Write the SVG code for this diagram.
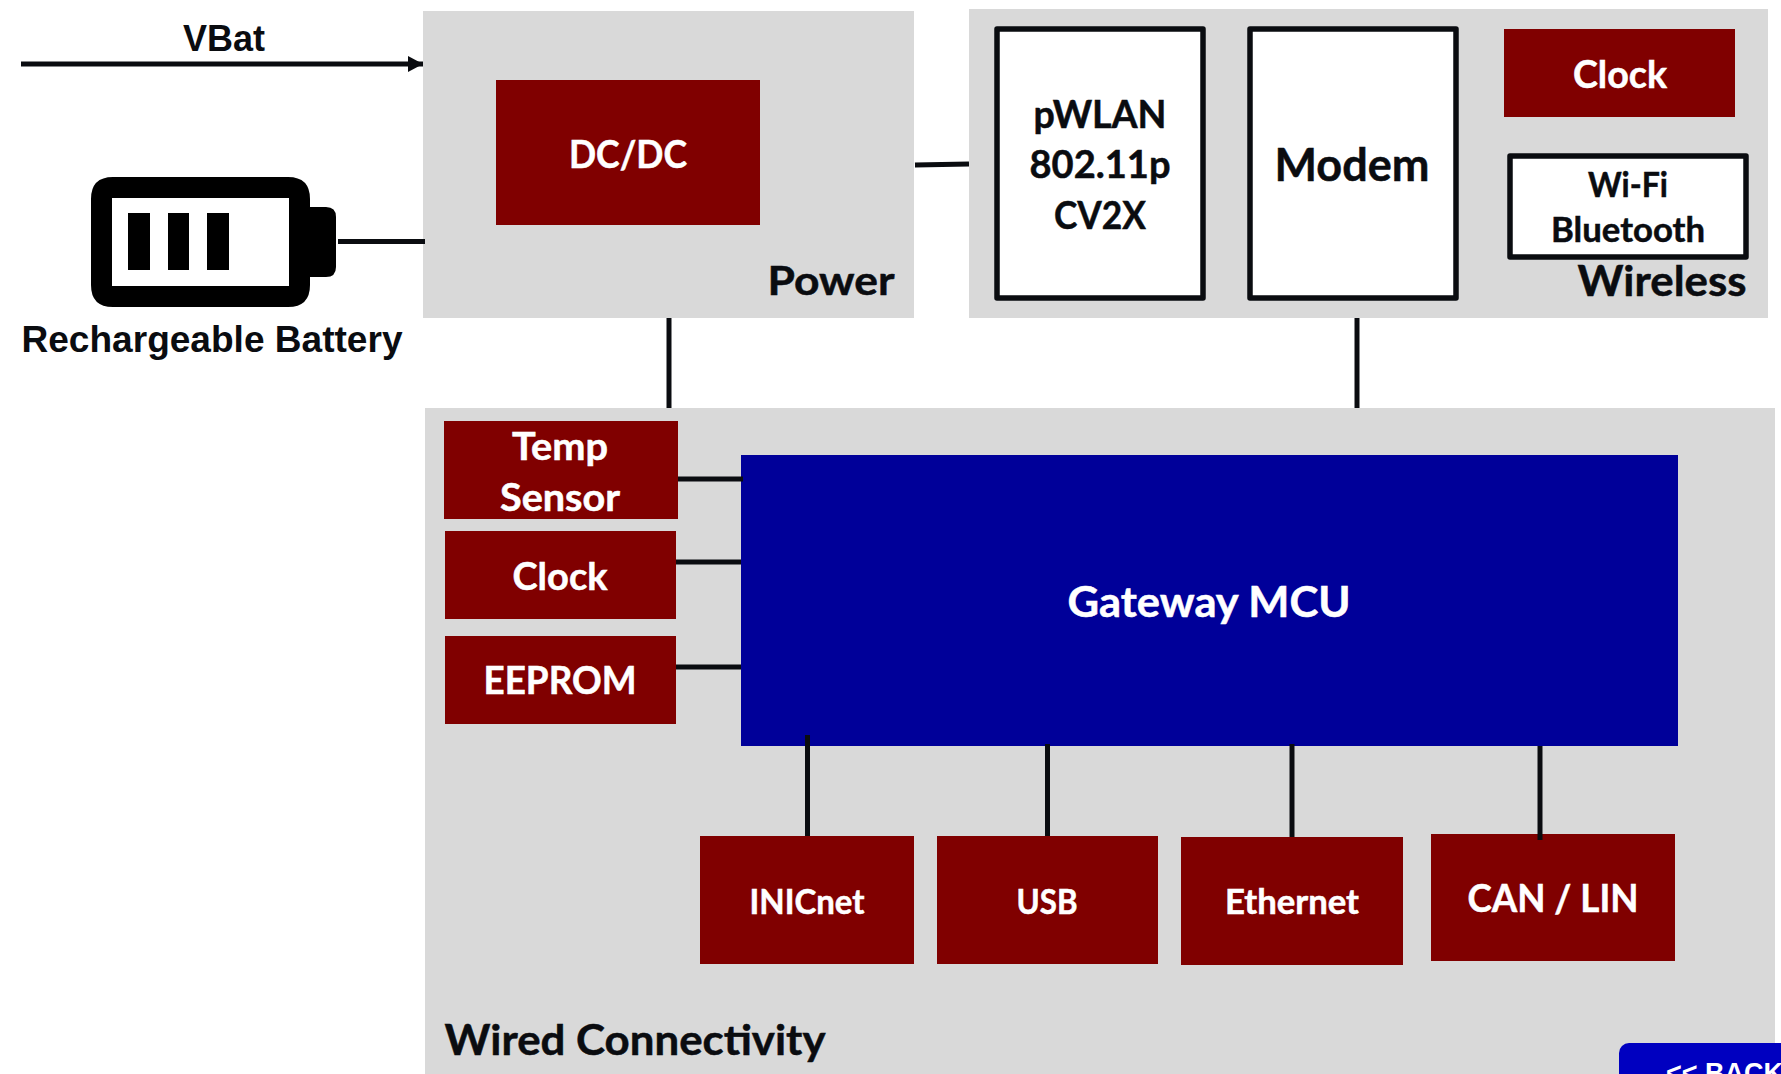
<svg xmlns="http://www.w3.org/2000/svg" width="1781" height="1074" viewBox="0 0 1781 1074">
<style>
.panel{fill:#d9d9d9}
.red{fill:#800000}
.white{fill:#fff;stroke:#0a0c10;stroke-width:5.5;stroke-linejoin:round}
.t{font-family:Lato,"Open Sans","Liberation Sans",sans-serif;font-weight:700;text-anchor:middle;stroke-width:.5}
.w{fill:#fff;stroke:#fff}
.k{fill:#0a0c10;stroke:#0a0c10}
.a{font-family:"Liberation Sans",Arial,sans-serif;font-weight:700;text-anchor:middle;fill:#0a0c10}
.c{stroke:#0a0c10;stroke-width:5;fill:none}
</style>
<defs>
<marker id="arrow" markerUnits="userSpaceOnUse" markerWidth="16" markerHeight="16" refX="15" refY="8" orient="auto"><path d="M0 0L15 8L0 16Z" fill="#0a0c10"/></marker>
</defs>
<rect width="1781" height="1074" fill="#fff"/>
<g id="power"><rect class="panel" x="423" y="11" width="491" height="307"/>
<text class="t k" x="831" y="295" font-size="41" textLength="127" lengthAdjust="spacingAndGlyphs">Power</text></g>
<g id="wireless"><rect class="panel" x="969" y="9" width="799" height="309"/>
<text class="t k" x="1662" y="296" font-size="42" textLength="169" lengthAdjust="spacingAndGlyphs">Wireless</text></g>
<g id="wired"><rect class="panel" x="425" y="408" width="1350" height="666"/>
<text class="t k" x="635" y="1055" font-size="42" textLength="381" lengthAdjust="spacingAndGlyphs">Wired Connectivity</text></g>
<g id="vbat"><text class="a" x="224" y="51" font-size="36">VBat</text></g>
<g id="battery">
<path fill-rule="evenodd" d="M113 177H288Q310 177 310 199V207H326Q336 207 336 217V267Q336 277 326 277H310V285Q310 307 288 307H113Q91 307 91 285V199Q91 177 113 177ZM112 198V286H289V198Z" fill="#000"/>
<rect x="128" y="213" width="22" height="57" fill="#000"/>
<rect x="168" y="213" width="21" height="57" fill="#000"/>
<rect x="207" y="213" width="22" height="57" fill="#000"/>
<text class="a" x="212" y="352" font-size="36" textLength="381" lengthAdjust="spacingAndGlyphs">Rechargeable Battery</text>
</g>
<g id="dcdc"><rect class="red" x="496" y="80" width="264" height="145"/>
<text class="t w" x="628" y="168" font-size="38" textLength="118" lengthAdjust="spacingAndGlyphs">DC/DC</text></g>
<g id="pwlan"><rect class="white" x="997" y="29" width="206" height="269"/>
<text class="t k" x="1100" y="128" font-size="38" textLength="133" lengthAdjust="spacingAndGlyphs">pWLAN</text>
<text class="t k" x="1100" y="178" font-size="38" textLength="141" lengthAdjust="spacingAndGlyphs">802.11p</text>
<text class="t k" x="1100" y="229" font-size="38" textLength="92" lengthAdjust="spacingAndGlyphs">CV2X</text></g>
<g id="modem"><rect class="white" x="1250" y="29" width="206" height="269"/>
<text class="t k" x="1352" y="181" font-size="46" textLength="155" lengthAdjust="spacingAndGlyphs">Modem</text></g>
<g id="wclock"><rect class="red" x="1504" y="29" width="231" height="88"/>
<text class="t w" x="1620" y="88" font-size="38" textLength="94" lengthAdjust="spacingAndGlyphs">Clock</text></g>
<g id="wifi"><rect class="white" x="1510" y="156" width="236" height="101"/>
<text class="t k" x="1628" y="197" font-size="34" textLength="80" lengthAdjust="spacingAndGlyphs">Wi-Fi</text>
<text class="t k" x="1628" y="242" font-size="34" textLength="154" lengthAdjust="spacingAndGlyphs">Bluetooth</text></g>
<g id="temp"><rect class="red" x="444" y="421" width="234" height="98"/>
<text class="t w" x="560" y="460" font-size="38" textLength="96" lengthAdjust="spacingAndGlyphs">Temp</text>
<text class="t w" x="560" y="511" font-size="38" textLength="120" lengthAdjust="spacingAndGlyphs">Sensor</text></g>
<g id="clock"><rect class="red" x="445" y="531" width="231" height="88"/>
<text class="t w" x="560" y="590" font-size="38" textLength="95" lengthAdjust="spacingAndGlyphs">Clock</text></g>
<g id="eeprom"><rect class="red" x="445" y="636" width="231" height="88"/>
<text class="t w" x="560" y="694" font-size="38" textLength="153" lengthAdjust="spacingAndGlyphs">EEPROM</text></g>
<g id="mcu"><rect x="741" y="455" width="937" height="291" fill="#000099"/>
<text class="t w" x="1209" y="617" font-size="42" textLength="283" lengthAdjust="spacingAndGlyphs">Gateway MCU</text></g>
<g id="inicnet"><rect class="red" x="700" y="836" width="214" height="128"/>
<text class="t w" x="807" y="914" font-size="34" textLength="115" lengthAdjust="spacingAndGlyphs">INICnet</text></g>
<g id="usb"><rect class="red" x="937" y="836" width="221" height="128"/>
<text class="t w" x="1047" y="914" font-size="34" textLength="61" lengthAdjust="spacingAndGlyphs">USB</text></g>
<g id="ethernet"><rect class="red" x="1181" y="837" width="222" height="128"/>
<text class="t w" x="1292" y="914" font-size="34" textLength="134" lengthAdjust="spacingAndGlyphs">Ethernet</text></g>
<g id="canlin"><rect class="red" x="1431" y="834" width="244" height="127"/>
<text class="t w" x="1553" y="912" font-size="38" textLength="171" lengthAdjust="spacingAndGlyphs">CAN / LIN</text></g>
<g id="connectors">
<path class="c" d="M21 64H423" marker-end="url(#arrow)"/>
<path class="c" d="M338 241.500H425"/>
<path class="c" d="M915 165L969 164"/>
<path class="c" d="M669 318V408"/>
<path class="c" d="M1357 318V408"/>
<path class="c" d="M678 479H743"/>
<path class="c" d="M676 562H741"/>
<path class="c" d="M676 667H741"/>
<path class="c" d="M807.500 735V836"/>
<path class="c" d="M1047.500 744V836"/>
<path class="c" d="M1292 744V837"/>
<path class="c" d="M1540 746V840"/>
</g>
<g id="back"><rect x="1619" y="1043" width="180" height="60" rx="10" fill="#0000c0"/>
<text x="1666" y="1082" font-family="'Liberation Sans',Arial,sans-serif" font-weight="700" font-size="27" fill="#fff">&lt;&lt; BACK</text></g>
</svg>
